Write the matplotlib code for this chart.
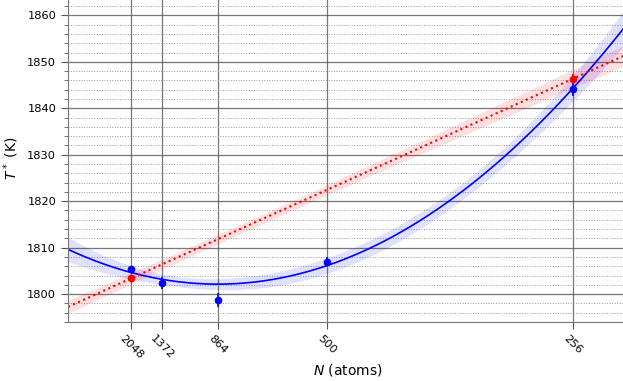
import numpy as np
import matplotlib
matplotlib.use("Agg")
import matplotlib.pyplot as plt
from matplotlib.ticker import MultipleLocator

# system sizes (atoms) and melting temperatures
n_blue = np.array([2048, 1372, 864, 500, 256])
t_blue = np.array([1805.3, 1802.4, 1798.7, 1807.0, 1844.1])
err_blue = np.array([0.8, 1.35, 1.5, 0.9, 1.4])

n_red = np.array([2048, 256])
t_red = np.array([1803.4, 1846.4])
err_red = np.array([0.6, 1.0])

tick_n = [2048, 1372, 864, 500, 256]

x_blue = 1.0 / n_blue
x_red = 1.0 / n_red

plt.rcParams['font.size'] = 8.2

fig = plt.figure(figsize=(6.23, 3.81), dpi=100)
ax = fig.add_axes([68 / 623, 59 / 381, 555 / 623, 322 / 381])

xs = np.linspace(0.0, 0.00429, 300)

# quadratic fit (weighted) for the blue set
cb, covb = np.polyfit(x_blue, t_blue, 2, w=1 / err_blue, cov='unscaled')
Jb = np.vstack([xs ** 2, xs, np.ones_like(xs)]).T
fb = np.polyval(cb, xs)
sb = 2 * np.sqrt(np.einsum('ij,jk,ik->i', Jb, covb, Jb))

# straight line for the red set
cr, covr = np.polyfit(x_red, t_red, 1, w=1 / err_red, cov='unscaled')
Jr = np.vstack([xs, np.ones_like(xs)]).T
fr = np.polyval(cr, xs)
sr = 2 * np.sqrt(np.einsum('ij,jk,ik->i', Jr, covr, Jr))

ax.fill_between(xs, fb - sb, fb + sb, color='blue', alpha=0.12, lw=0)
ax.fill_between(xs, fr - sr, fr + sr, color='red', alpha=0.12, lw=0)
ax.plot(xs, fb, c='blue', lw=1.2)
ax.plot(xs, fr, c='red', lw=1.5, ls=':')

ax.errorbar(x_blue, t_blue, yerr=err_blue, fmt='o', c='blue', ms=4.5, elinewidth=1.2)
ax.errorbar(x_red, t_red, yerr=err_red, fmt='o', c='red', ms=4.5, elinewidth=1.2)

ax.set_xlim(0.0, 0.00429)
ax.set_ylim(1794.0, 1863.3)
ax.set_xticks([1.0 / n for n in tick_n])
ax.set_xticklabels([str(n) for n in tick_n], rotation=-45, ha='center')
ax.yaxis.set_major_locator(MultipleLocator(10))
ax.yaxis.set_minor_locator(MultipleLocator(2))

ax.grid(True, which='major', color='#555555', lw=0.9, alpha=0.8)
ax.grid(True, which='minor', axis='y', color='#999999', lw=0.7, ls=':')
ax.set_axisbelow(True)

for side in ['top', 'right']:
    ax.spines[side].set_visible(False)
for side in ['left', 'bottom']:
    ax.spines[side].set_color('#777777')
ax.tick_params(axis='both', which='both', colors='#555555', labelcolor='black', labelsize=8.2)
ax.tick_params(axis='both', which='major', length=5)
ax.tick_params(axis='y', which='minor', length=3)

ax.set_xlabel("$N$ (atoms)", fontsize=10)
ax.xaxis.set_label_coords(0.504, -0.124)
ax.set_ylabel("$T^*$ (K)", fontsize=10)
ax.yaxis.set_label_coords(-0.084, 0.51)

fig.savefig("out.png", dpi=100)
